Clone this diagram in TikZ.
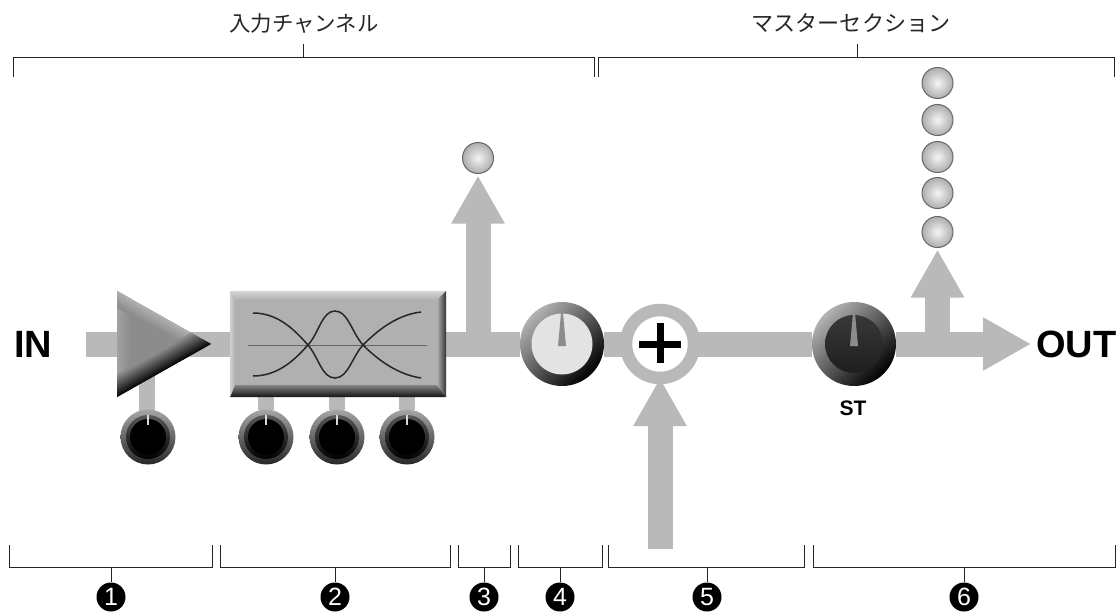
\documentclass[tikz,border=0pt]{standalone}
\usepackage{fontspec}
\setmainfont{Liberation Sans}
\newfontfamily\jpfont{Noto Sans CJK JP}
\usetikzlibrary{arrows.meta,backgrounds}
\definecolor{busgray}{HTML}{B9B9B9}
\pgfdeclareradialshading{ledshade}{\pgfpointorigin}{color(0bp)=(black!4); color(14bp)=(black!20); color(36bp)=(black!44); color(50bp)=(black!62)}
\tikzset{
  x=1pt,y=-1pt,
  bus/.style={draw=busgray,line width=25pt},
  thinbus/.style={draw=busgray,line width=16pt},
  busarrow/.style={bus,-{Triangle[length=48pt,width=50pt]}},
  bracket/.style={draw=black!85,line width=0.8pt},
  bigtitle/.style={font=\jpfont\fontsize{21.4}{22}\selectfont,text=black!85,inner sep=0pt},
  bigtitleb/.style={font=\jpfont\fontsize{22.1}{23}\selectfont,text=black!85,inner sep=0pt},
  biglabel/.style={font=\bfseries\fontsize{38}{38}\selectfont,inner sep=0pt},
  numdot/.style={circle,fill=black,text=white,minimum size=29pt,inner sep=0pt,font=\fontsize{25}{25}\selectfont},
  knobouter/.style={circle,inner sep=0pt,outer sep=0pt,minimum size=55pt,top color=black!35,bottom color=black!85},
  knobinner/.style={circle,inner sep=0pt,minimum size=44pt,top color=black!65,bottom color=black},
  knobcore/.style={circle,inner sep=0pt,minimum size=36pt,fill=black},
  dialouter/.style={circle,inner sep=0pt,outer sep=0pt,minimum size=84pt,top color=black!30,bottom color=black,shading angle=45},
  dialface/.style={circle,inner sep=0pt,minimum size=61pt,fill=black!11},
  stface/.style={circle,inner sep=0pt,minimum size=58pt,top color=black!78,bottom color=black!88},
  led/.style={circle,inner sep=0pt,outer sep=0pt,minimum size=31pt,draw=black!60,line width=1pt,shading=ledshade},
  sumring/.style={circle,inner sep=0pt,outer sep=0pt,minimum size=68pt,draw=busgray,line width=12.5pt,fill=white},
  plusbar/.style={line width=7pt,draw=black},
  eqline/.style={line width=1.5pt,draw=black!85},
  needle/.style={fill=black!45},
  tickw/.style={draw=black!15,line width=1.6pt},
}
% x,y,angle,length,depth,sign,outer grey,inner grey
\newcommand{\bevel}[8]{%
  \begin{scope}[shift={(#1,#2)},rotate=#3]
    \foreach \i in {0,...,#5}{
      \pgfmathsetmacro{\p}{#7+(#8-#7)*\i/#5}
      \draw[line width=1.6pt,color=black!\p] (-30,#6*\i) -- (#4+30,#6*\i);
    }
  \end{scope}}
\newcommand{\knob}[3]{% name,x,y
  \node[knobouter] (#1) at (#2,#3) {};
  \node[knobinner] at (#1) {};
  \node[knobcore] at (#1) {};
  \draw[tickw] ([yshift=22pt]#1.center) -- ([yshift=12pt]#1.center);
}
\begin{document}
\begin{tikzpicture}
\useasboundingbox (0,0) rectangle (1119,613);
% --- free ends of the signal paths
\coordinate (in) at (86,344);
\coordinate (trap) at (478,344);
\coordinate (cue) at (937.5,344);
\coordinate (out) at (1031,344);
\coordinate (ret) at (660,549);
\coordinate (ampknobtop) at (147,370);
% --- amplifier
\begin{scope}
  \clip (117,291) -- (211,344) -- (117,397) -- cycle;
  \fill[black!45] (100,280) rectangle (220,400);
  \bevel{117}{291}{-90}{106}{14}{-1}{36}{45}
  \bevel{117}{291}{-29.4}{108}{14}{1}{30}{45}
  \bevel{117}{397}{29.4}{108}{19}{-1}{98}{45}
\end{scope}
% --- equaliser
\node[inner sep=0pt,outer sep=0pt,minimum width=216pt,minimum height=106pt,fill=black!31] (eq) at (338,344) {};
\shade[top color=black!16,bottom color=black!31] (230,291) -- (446,291) -- (437,300) -- (235,300) -- cycle;
\shade[top color=black!48,bottom color=black!92] (235,385) -- (437,385) -- (446,397) -- (230,397) -- cycle;
\shade[left color=black!31,right color=black!80] (437,300) -- (446,291) -- (446,397) -- (437,385) -- cycle;
\shade[left color=black!18,right color=black!31] (230,291) -- (235,300) -- (235,385) -- (230,397) -- cycle;
\draw[line width=1pt,draw=black!60] (248,345) -- (427,345);
\draw[eqline] (253,313) .. controls (280,313) and (297,333) .. (308,345) .. controls (319,358) and (322,378) .. (335,378) .. controls (348,378) and (352,357) .. (363,345) .. controls (375,333) and (395,315) .. (421,312);
\draw[eqline] (253,376) .. controls (280,376) and (297,357) .. (308,345) .. controls (319,333) and (322,311) .. (335,311) .. controls (348,311) and (352,333) .. (363,345) .. controls (375,357) and (395,374) .. (421,378);
% --- knobs
\knob{k1}{148}{437}
\knob{k2}{266}{437}
\knob{k3}{337}{437}
\knob{k4}{407}{437}
% --- dial, sum, stereo knob
\node[dialouter] (dial) at (562,344) {};
\node[dialface] at (dial) {};
\fill[needle] (561,313) -- (563,313) -- (566,346) -- (558,346) -- cycle;
\node[sumring] (sum) at (660,344) {};
\draw[plusbar] (639,344) -- (681,344);
\draw[plusbar] (660,323) -- (660,363);
\node[dialouter] (st) at (854,344) {};
\node[stface] at (st) {};
\fill[needle] (853,313) -- (855,313) -- (858,346) -- (850,346) -- cycle;
% --- meters
\node[led] (m0) at (478,158) {};
\node[led] (m1) at (937.5,83) {};
\node[led] (m2) at (937.5,120) {};
\node[led] (m3) at (937.5,157) {};
\node[led] (m4) at (937.5,193) {};
\node[led] (m5) at (937.5,232) {};
% --- signal paths, behind the blocks
\begin{scope}[on background layer]
  \fill[white] (0,0) rectangle (1119,613);
  \draw[bus] (in) -- (eq);
  \draw[bus] (eq) -- (dial);
  \draw[bus] (dial) -- (sum);
  \draw[bus] (sum) -- (st);
  \draw[busarrow] (st) -- (out);
  \draw[busarrow] (trap) -- ([yshift=-2pt]m0.south);
  \draw[busarrow] (cue) -- ([yshift=-2pt]m5.south);
  \draw[busarrow] (ret) -- (sum.south);
  \draw[thinbus] (ampknobtop) -- (ampknobtop |- k1);
  \draw[thinbus] (eq.south -| k2) -- (k2);
  \draw[thinbus] (eq.south -| k3) -- (k3);
  \draw[thinbus] (eq.south -| k4) -- (k4);
\end{scope}
% --- labels
\node[biglabel,anchor=west] (inl) at (14,344) {IN};
\node[biglabel,anchor=west] (outl) at (1036,344) {OUT};
\node[inner sep=0pt,font=\bfseries\fontsize{21}{21}\selectfont] (stl) at (853,408) {ST};
\node[bigtitle] (t1) at (304,23) {入力チャンネル};
\node[bigtitleb] (t2) at (851,23) {マスターセクション};
% --- upper brackets
\coordinate (b1) at (303,44);
\coordinate (b2) at (857,44);
\draw[bracket] (13,77) -- (13,57) -- (594,57) -- (594,77);
\draw[bracket] (598,77) -- (598,57) -- (1114,57) -- (1114,77);
\draw[bracket] (b1) -- (b1 |- 0,57);
\draw[bracket] (b2) -- (b2 |- 0,57);
% --- lower brackets and numbers
\node[numdot] (n1) at (111,597) {1};
\node[numdot] (n2) at (335,597) {2};
\node[numdot] (n3) at (484,597) {3};
\node[numdot] (n4) at (560,597) {4};
\node[numdot] (n5) at (707,597) {5};
\node[numdot] (n6) at (964,597) {6};
\foreach \a/\b/\n in {9/212/n1,220/450/n2,458/510/n3,518/602/n4,608/804/n5,813/1115/n6}{
  \draw[bracket] (\a,545) -- (\a,567) -- (\b,567) -- (\b,545);
  \draw[bracket] (\n.north) -- (\n.north |- 0,567);
}
\end{tikzpicture}
\end{document}
